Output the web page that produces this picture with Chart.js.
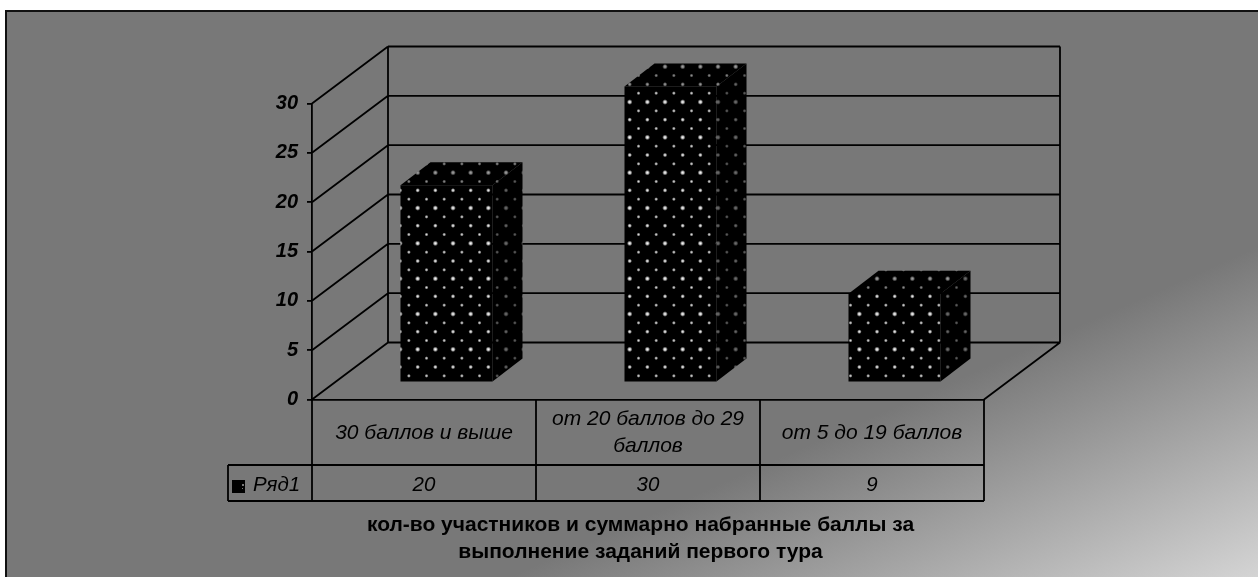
<!DOCTYPE html>
<html lang="ru">
<head>
<meta charset="utf-8">
<style>html,body{margin:0;padding:0;background:#fff;overflow:hidden}canvas{display:block}</style>
<script src="https://cdn.jsdelivr.net/npm/chart.js@4"></script>
</head>
<body>
<canvas id="c" width="1258" height="577"></canvas>
<script>
const categories = ["30 баллов и выше", ["от 20 баллов до 29", "баллов"], "от 5 до 19 баллов"];
const seriesName = "Ряд1";
const seriesValues = [20, 30, 9];
const axisTitle = ["кол-во участников и суммарно набранные баллы за", "выполнение заданий первого тура"];
const fontFamily = '"Liberation Sans", Arial, sans-serif';

function dotTile(alpha) {
  const t = document.createElement('canvas');
  t.width = 53; t.height = 106;
  const g = t.getContext('2d');
  g.fillStyle = '#000'; g.fillRect(0, 0, 53, 106);
  const dot = (x, y, r, a) => {
    const rg = g.createRadialGradient(x, y, 0, x, y, r);
    rg.addColorStop(0, `rgba(255,255,255,${a})`);
    rg.addColorStop(.45, `rgba(235,235,235,${a * .8})`);
    rg.addColorStop(1, 'rgba(180,180,180,0)');
    g.fillStyle = rg;
    g.beginPath(); g.arc(x, y, r, 0, 7); g.fill();
  };
  dot(13, 13, 8.5, alpha);
  dot(39.5, 39.5, 6, alpha * .85);
  dot(13, 66, 7, alpha * .95);
  dot(39.5, 92.5, 6, alpha * .85);
  return g.createPattern(t, 'repeat');
}
const ctxMain = document.getElementById('c').getContext('2d');
function scaled(p) { p.setTransform(new DOMMatrix().translate(2.17, 8.67).scale(1 / 3)); return p; }
const frontPattern = scaled(dotTile(1));
const topPattern = scaled(dotTile(.65));
const sidePattern = scaled(dotTile(.45));

const depth = { wx: 76, wy: -57, barX: 22.5, barY: -17, barDX: 30, barDY: -23 };
const tableLeft = 228, rowTop = 465, tableBottom = 501;

const scene = {
  id: 'scene',
  beforeDraw(chart) {
    const { ctx, width, height } = chart;
    ctx.save();
    ctx.fillStyle = '#fff'; ctx.fillRect(0, 0, width, height);
    const lg = ctx.createLinearGradient(1136, 300.5, 1258, 577);
    lg.addColorStop(0, '#787878');
    lg.addColorStop(1, '#d4d4d4');
    ctx.fillStyle = lg; ctx.fillRect(5, 11, width - 5, height - 11);
    ctx.fillStyle = '#111';
    ctx.fillRect(5, 10, width - 5, 2);
    ctx.fillRect(5, 10, 2, height - 10);
    ctx.restore();
  },
  beforeDatasetsDraw(chart) {
    const { ctx, scales: { x, y }, chartArea: a } = chart;
    ctx.save();
    ctx.strokeStyle = '#000'; ctx.lineWidth = 1.8;
    const bx = a.left + depth.wx, rx = a.right + depth.wx;
    ctx.beginPath();
    y.ticks.forEach(t => {
      const py = y.getPixelForValue(t.value);
      ctx.moveTo(a.left, py); ctx.lineTo(bx, py + depth.wy);
      ctx.moveTo(bx, py + depth.wy); ctx.lineTo(rx, py + depth.wy);
    });
    ctx.moveTo(bx, a.top + depth.wy); ctx.lineTo(bx, a.bottom + depth.wy);
    ctx.moveTo(rx, a.top + depth.wy); ctx.lineTo(rx, a.bottom + depth.wy);
    ctx.moveTo(rx, a.bottom + depth.wy); ctx.lineTo(a.right, a.bottom);
    ctx.stroke();

    // data table under the axis
    const n = seriesValues.length, half = (x.getPixelForValue(1) - x.getPixelForValue(0)) / 2;
    ctx.beginPath();
    ctx.moveTo(a.left, a.bottom); ctx.lineTo(a.left, tableBottom);
    for (let i = 0; i < n; i++) {
      const r = x.getPixelForValue(i) + half;
      ctx.moveTo(r, a.bottom); ctx.lineTo(r, tableBottom);
    }
    ctx.moveTo(tableLeft, rowTop); ctx.lineTo(a.right, rowTop);
    ctx.moveTo(tableLeft, tableBottom); ctx.lineTo(a.right, tableBottom);
    ctx.moveTo(tableLeft, rowTop); ctx.lineTo(tableLeft, tableBottom);
    ctx.stroke();

    ctx.fillStyle = '#000';
    ctx.font = 'italic 20.5px ' + fontFamily;
    ctx.textAlign = 'center'; ctx.textBaseline = 'middle';
    seriesValues.forEach((v, i) => ctx.fillText(String(v), x.getPixelForValue(i), 485));
    ctx.textAlign = 'left';
    ctx.fillText(seriesName, 253, 485);
    ctx.fillRect(232, 480, 13, 13);
    ctx.fillStyle = '#777';
    ctx.fillRect(242, 484, 2, 2);
    ctx.fillRect(242, 488, 1, 1);

    ctx.fillStyle = '#000';
    ctx.textAlign = 'center';
    ctx.font = 'bold 21px ' + fontFamily;
    axisTitle.forEach((line, i) => ctx.fillText(line, 640.5, 525 + i * 27));
    ctx.restore();

    ctx.save();
    ctx.translate(depth.barX, depth.barY);
  },
  afterDatasetsDraw(chart) {
    const { ctx } = chart;
    const { data } = chart.getDatasetMeta(0);
    data.forEach(el => {
      const l = el.x - el.width / 2, r = el.x + el.width / 2, t = el.y, b = el.base;
      const dx = depth.barDX, dy = depth.barDY;
      ctx.fillStyle = topPattern;
      ctx.beginPath();
      ctx.moveTo(l, t); ctx.lineTo(l + dx, t + dy); ctx.lineTo(r + dx, t + dy); ctx.lineTo(r, t);
      ctx.closePath(); ctx.fill();
      ctx.fillStyle = sidePattern;
      ctx.beginPath();
      ctx.moveTo(r, t); ctx.lineTo(r + dx, t + dy); ctx.lineTo(r + dx, b + dy); ctx.lineTo(r, b);
      ctx.closePath(); ctx.fill();
    });
    ctx.restore();
  }
};

new Chart(ctxMain, {
  type: 'bar',
  data: {
    labels: categories,
    datasets: [{
      label: seriesName,
      data: seriesValues,
      backgroundColor: frontPattern,
      borderWidth: 0,
      barPercentage: 1,
      categoryPercentage: 92 / 224,
      clip: false
    }]
  },
  plugins: [scene],
  options: {
    responsive: false,
    animation: false,
    devicePixelRatio: 1,
    layout: { padding: { left: 262, top: 103.5, right: 274, bottom: 0 } },
    plugins: { legend: { display: false }, tooltip: { enabled: false } },
    scales: {
      x: {
        afterFit(s) { s.height = 177.5; },
        grid: { display: false },
        border: { display: true, color: '#000', width: 1.8 },
        ticks: {
          color: '#000',
          font: { family: fontFamily, size: 21, style: 'italic', lineHeight: 1.28 },
          padding: 12,
          maxRotation: 0, autoSkip: false,
          crossAlign: 'center'
        }
      },
      y: {
        min: 0, max: 30,
        afterFit(s) { s.width = 50; },
        grid: { drawOnChartArea: false, drawTicks: true, tickLength: 5, color: '#000', lineWidth: 1.8 },
        border: { display: true, color: '#000', width: 1.8 },
        ticks: {
          stepSize: 5,
          color: '#000',
          padding: 9,
          font: { family: fontFamily, size: 20, style: 'italic', weight: 'bold' }
        }
      }
    }
  }
});
</script>
</body>
</html>
